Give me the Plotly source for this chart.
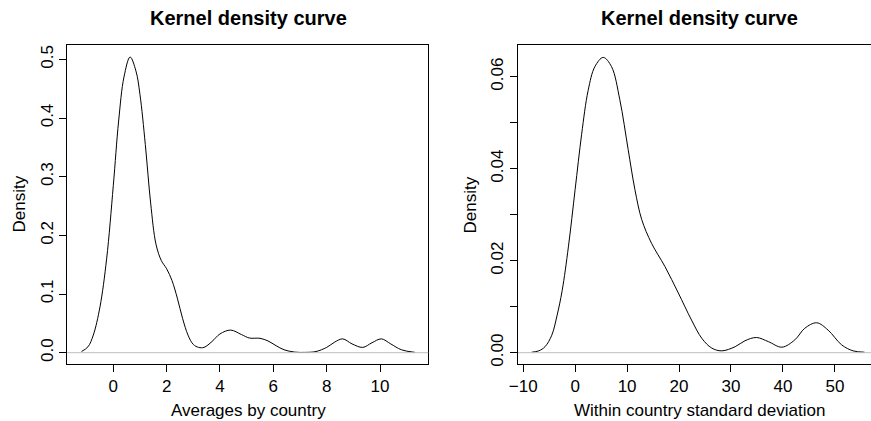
import plotly.graph_objects as go

# ---- data ----
avg_x = [-1.19, -0.95, -0.75, -0.5, -0.25, 0.0, 0.2, 0.4, 0.63, 0.85, 1.0, 1.2, 1.4, 1.6, 1.8,
         2.0, 2.2, 2.4, 2.6, 2.8, 3.0, 3.2, 3.4, 3.7, 4.0, 4.4, 4.8, 5.1, 5.5, 5.8, 6.1, 6.4,
         6.8, 7.2, 7.6, 8.0, 8.3, 8.6, 8.95, 9.35, 9.7, 10.05, 10.4, 10.8, 11.31]
avg_d = [0.002, 0.010, 0.030, 0.078, 0.160, 0.285, 0.395, 0.470, 0.504, 0.480, 0.440, 0.355,
         0.255, 0.185, 0.157, 0.143, 0.123, 0.093, 0.058, 0.030, 0.014, 0.009, 0.009, 0.019,
         0.032, 0.0385, 0.031, 0.025, 0.0245, 0.020, 0.012, 0.005, 0.001, 0.0005, 0.002, 0.009,
         0.018, 0.0235, 0.015, 0.009, 0.017, 0.0235, 0.015, 0.005, 0.0005]

sd_x = [-8.37, -7.0, -5.8, -4.5, -3.5, -2.5, -1.3, 0.0, 1.25, 2.5, 3.8, 5.4, 7.0, 8.6, 10.2,
        11.5, 12.8, 14.7, 17.3, 19.85, 22.4, 24.4, 26.3, 28.2, 30.8, 32.7, 34.9, 37.2, 39.8,
        42.3, 44.2, 46.5, 48.7, 51.3, 53.5, 55.7]
sd_d = [0.0001, 0.0004, 0.0013, 0.0038, 0.0080, 0.0135, 0.0230, 0.0355, 0.0475, 0.0570,
        0.0622, 0.0642, 0.0622, 0.0550, 0.0442, 0.0355, 0.0290, 0.0238, 0.0187, 0.0130,
        0.0071, 0.0031, 0.0010, 0.0004, 0.0013, 0.0026, 0.0033, 0.0024, 0.0012, 0.0028,
        0.0053, 0.0065, 0.0049, 0.0017, 0.0004, 0.0001]

avg_xticks = [0, 2, 4, 6, 8, 10]
avg_yticks = [0.0, 0.1, 0.2, 0.3, 0.4, 0.5]
avg_ytext = ["0.0", "0.1", "0.2", "0.3", "0.4", "0.5"]
sd_xticks = [-10, 0, 10, 20, 30, 40, 50]
sd_xtext = ["\u221210", "0", "10", "20", "30", "40", "50"]
sd_yticks = [0.0, 0.01, 0.02, 0.03, 0.04, 0.05, 0.06]
sd_ytext = ["0.00", "", "0.02", "", "0.04", "", "0.06"]

title_text = "Kernel density curve"
xlab_left = "Averages by country"
xlab_right = "Within country standard deviation"
ylab = "Density"

FONT = "Liberation Sans, Arial, Helvetica, sans-serif"
W, H = 871, 421

fig = go.Figure()
fig.add_trace(go.Scatter(x=avg_x, y=avg_d, mode="lines", line=dict(color="black", width=1, shape="spline"),
                         xaxis="x", yaxis="y", showlegend=False, hoverinfo="skip"))
fig.add_trace(go.Scatter(x=sd_x, y=sd_d, mode="lines", line=dict(color="black", width=1, shape="spline"),
                         xaxis="x2", yaxis="y2", showlegend=False, hoverinfo="skip"))

ydom = [1 - 364 / H, 1 - 45 / H]
axis_common = dict(showgrid=False, zeroline=False, showline=True, linecolor="black", linewidth=1,
                   ticks="outside", ticklen=7, tickcolor="black", tickwidth=1, automargin=False,
                   tickfont=dict(family=FONT, size=17, color="black"))

fig.update_layout(
    template="none",
    width=W, height=H, margin=dict(l=0, r=0, t=0, b=0, pad=0), autosize=False,
    paper_bgcolor="white", plot_bgcolor="white",
    xaxis=dict(domain=[67.3 / W, 428.3 / W], range=[-1.725, 11.81], tickvals=avg_xticks,
               anchor="y", mirror=True, **axis_common),
    yaxis=dict(domain=ydom, range=[-0.0193, 0.5245], tickvals=avg_yticks, ticktext=avg_ytext,
               tickangle=-90, anchor="x", mirror=True, **axis_common),
    xaxis2=dict(domain=[518 / W, 1.0], range=[-11.0, 56.95], tickvals=sd_xticks, ticktext=sd_xtext,
                anchor="y2", mirror=True, **axis_common),
    yaxis2=dict(domain=ydom, range=[-0.00246, 0.0669], tickvals=sd_yticks, ticktext=sd_ytext,
                tickangle=-90, anchor="x2", mirror=False, **axis_common),
)

# zero lines (gray)
for xr, yr in [("x domain", "y"), ("x2 domain", "y2")]:
    fig.add_shape(type="line", xref=xr, yref=yr, x0=0, x1=1, y0=0, y1=0,
                  line=dict(color="#BEBEBE", width=1), layer="above")

ann = []
for cx, xl in [(248 / W, xlab_left), (699.9 / W, xlab_right)]:
    ann.append(dict(text="<b>" + title_text + "</b>", x=cx, y=1 - 18 / H, xref="paper", yref="paper",
                    showarrow=False, xanchor="center", yanchor="middle",
                    font=dict(family=FONT, size=20, color="black")))
    ann.append(dict(text=xl, x=cx, y=1 - 410 / H, xref="paper", yref="paper",
                    showarrow=False, xanchor="center", yanchor="middle",
                    font=dict(family=FONT, size=17, color="black")))
for cx in [19 / W, 470 / W]:
    ann.append(dict(text=ylab, x=cx, y=1 - 204.5 / H, xref="paper", yref="paper", textangle=-90,
                    showarrow=False, xanchor="center", yanchor="middle",
                    font=dict(family=FONT, size=17, color="black")))
fig.update_layout(annotations=ann)

fig.write_html("out.html")
